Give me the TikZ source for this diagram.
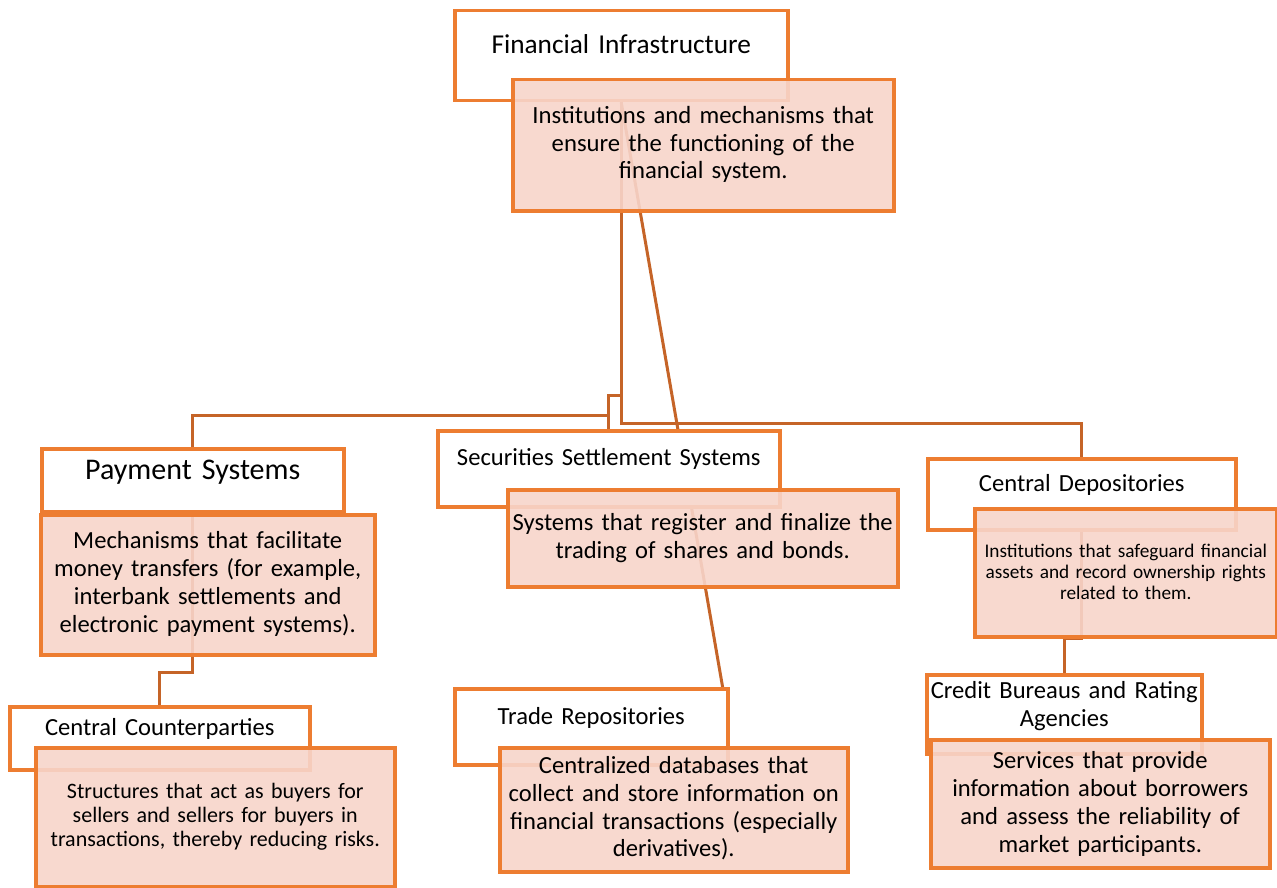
\documentclass[tikz,border=0pt]{standalone}
\usepackage{fontspec}
\setmainfont{Carlito}
\usepackage{xcolor}
\usepackage{tikz}
\usetikzlibrary{calc,backgrounds}
\definecolor{boxc}{RGB}{237,125,49}
\definecolor{linkc}{RGB}{197,100,40}
\definecolor{notec}{RGB}{247,213,202}
\newcommand{\fsz}[2]{\fontsize{#1}{#2}\selectfont}

\begin{document}
\begin{tikzpicture}[x=1pt,y=1pt,
  head/.style n args={3}{draw=boxc, fill=white, line width=3.5pt, anchor=north west, inner sep=0pt, align=center,
    text width=#1pt, text height=#2pt, text depth=#3pt, font=\fsz{24.6}{27.8}},
  note/.style n args={3}{head={#1}{#2}{#3}, fill=notec, fill opacity=0.9, text opacity=1},
  link/.style={draw=linkc, line width=3pt}]
  \useasboundingbox (0,0) rectangle (1277,-888);
  % top
  \node[head={333}{43}{47}, font=\fsz{27.3}{30}] (fin) at (453,-9) {Financial Infrastructure};
  \node[note={381}{44}{87}, font=\fsz{24.7}{27.5}] (finnote) at (511,-78) {Institutions and mechanisms that\\ensure the functioning of the\\financial system.};
  % left column
  \node[head={302}{31}{32}, font=\fsz{30}{33}] (pay) at (40,-447) {Payment Systems};
  \node[note={334}{34}{106}] (paynote) at (39,-513) {Mechanisms that facilitate\\money transfers (for example,\\interbank settlements and\\electronic payment systems).};
  \node[head={300}{29}{34}] (ccp) at (8,-705) {Central Counterparties};
  \node[note={359}{51}{88}, font=\fsz{22}{24}] (ccpnote) at (34,-746) {Structures that act as buyers for\\sellers and sellers for buyers in\\transactions, thereby reducing risks.};
  % middle column
  \node[head={342}{35}{41}] (sss) at (436,-429) {Securities Settlement Systems};
  \node[note={390}{41}{56}] (sssnote) at (506,-488) {Systems that register and finalize the\\trading of shares and bonds.};
  \node[head={273}{36}{40}] (trade) at (453,-687) {Trade Repositories};
  \node[note={348}{26}{98}, font=\fsz{24.6}{27.7}] (tradenote) at (498,-746) {Centralized databases that\\collect and store information on\\financial transactions (especially\\derivatives).};
  % right column
  \node[head={308}{33}{38}] (cd) at (926,-457) {Central Depositories};
  \node[note={302}{49}{79}, font=\fsz{19.3}{21}] (cdnote) at (973,-507) {Institutions that safeguard financial\\assets and record ownership rights\\related to them.};
  \node[head={275}{24}{55}, font=\fsz{24.6}{27.5}] (cr) at (925,-673) {Credit Bureaus and Rating\\Agencies};
  \node[note={339}{29}{99}] (crnote) at (929,-738) {Services that provide\\information about borrowers\\and assess the reliability of\\market participants.};
  % connectors behind the boxes
  \begin{scope}[on background layer]
    \draw[link] (fin.south) |- (sss.north |- 0,-395) -- (sss.north);
    \draw[link] (sss.north |- 0,-415) -| (pay.north);
    \draw[link] (fin.south) |- (cd.north |- 0,-423) -- (cd.north);
    \draw[link] (fin.south) -- ($(sss.north west)!0.7!(sss.north east)$);
    \draw[link] ($(sss.south west)!0.74!(sss.south east)$) -- ($(trade.north west)!0.975!(trade.north east)$);
    \draw[link] (pay.south) |- (ccp.north |- 0,-672) -- (ccp.north);
    \draw[link] (cd.south) |- (cr.north |- 0,-638) -- (cr.north);
  \end{scope}
\end{tikzpicture}
\end{document}
